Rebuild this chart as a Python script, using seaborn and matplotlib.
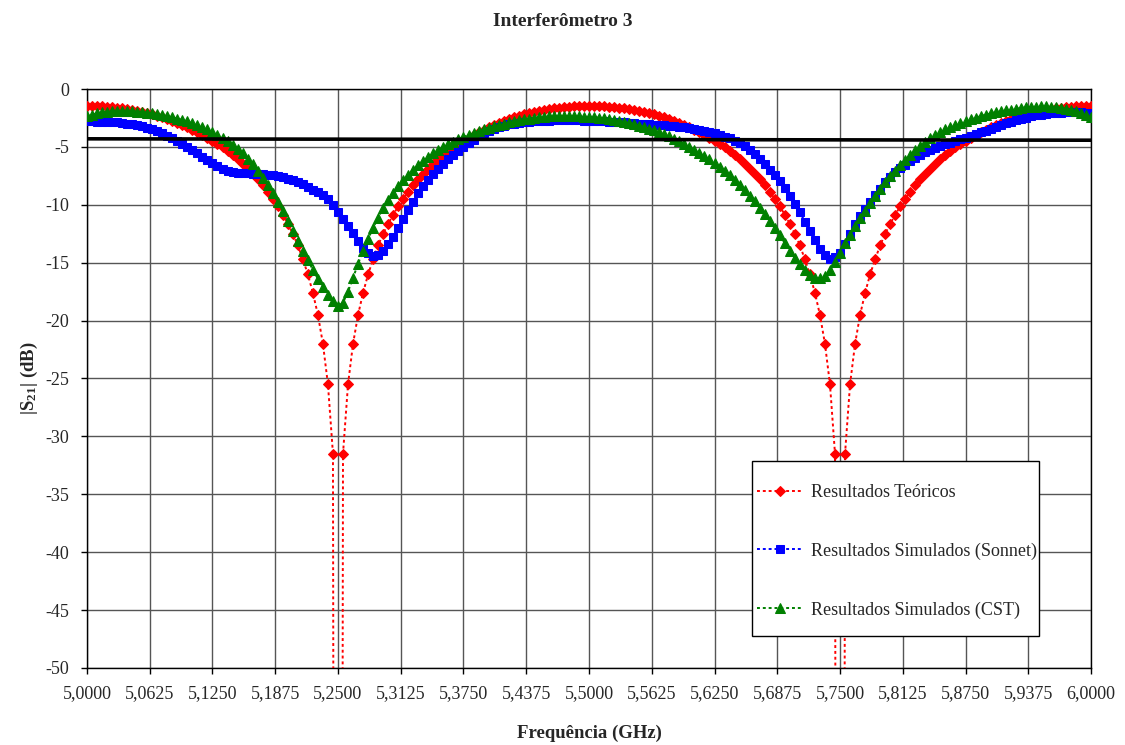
import numpy as np
import matplotlib
matplotlib.use('Agg')
import matplotlib.pyplot as plt
from matplotlib.patches import Rectangle
import seaborn as sns

# frequency sweep (GHz), 0.005 GHz step
freq = np.round(5.0 + 0.005 * np.arange(201), 4)

# |S21| (dB) - theoretical result
teorico = [
    -1.45, -1.45, -1.47, -1.49, -1.52, -1.56, -1.60, -1.66, -1.73, -1.80,
    -1.89, -1.98, -2.08, -2.19, -2.32, -2.45, -2.60, -2.75, -2.92, -3.10,
    -3.29, -3.50, -3.72, -3.95, -4.20, -4.45, -4.74, -5.04, -5.36, -5.70,
    -6.06, -6.45, -6.87, -7.32, -7.79, -8.31, -8.87, -9.47, -10.13, -10.85,
    -11.65, -12.5, -13.5, -14.7, -16.0, -17.6, -19.5, -22.0, -25.5, -31.5,
    -300.0,
    -31.5, -25.5, -22.0, -19.5, -17.6, -16.0, -14.7, -13.5, -12.5, -11.65,
    -10.85, -10.13, -9.47, -8.87, -8.31, -7.79, -7.32, -6.87, -6.45, -6.06,
    -5.70, -5.36, -5.04, -4.74, -4.45, -4.20, -3.95, -3.72, -3.50, -3.29,
    -3.10, -2.92, -2.75, -2.60, -2.45, -2.32, -2.19, -2.08, -1.98, -1.89,
    -1.80, -1.73, -1.66, -1.60, -1.56, -1.52, -1.49, -1.47, -1.45, -1.45,
    -1.45, -1.47, -1.49, -1.52, -1.56, -1.60, -1.66, -1.73, -1.80, -1.89,
    -1.98, -2.08, -2.19, -2.32, -2.45, -2.60, -2.75, -2.92, -3.10, -3.29,
    -3.50, -3.72, -3.95, -4.20, -4.45, -4.74, -5.04, -5.36, -5.70, -6.06,
    -6.45, -6.87, -7.32, -7.79, -8.31, -8.87, -9.47, -10.13, -10.85, -11.65,
    -12.5, -13.5, -14.7, -16.0, -17.6, -19.5, -22.0, -25.5, -31.5, -300.0,
    -31.5, -25.5, -22.0, -19.5, -17.6, -16.0, -14.7, -13.5, -12.5, -11.65,
    -10.85, -10.13, -9.47, -8.87, -8.31, -7.79, -7.32, -6.87, -6.45, -6.06,
    -5.70, -5.36, -5.04, -4.74, -4.45, -4.20, -3.95, -3.72, -3.50, -3.29,
    -3.10, -2.92, -2.75, -2.60, -2.45, -2.32, -2.19, -2.08, -1.98, -1.89,
    -1.80, -1.73, -1.66, -1.60, -1.56, -1.52, -1.49, -1.47, -1.45, -1.45,
]

# |S21| (dB) - Sonnet simulation
sonnet = [
    -2.80, -2.80, -2.81, -2.82, -2.84, -2.86, -2.89, -2.93, -2.98, -3.05,
    -3.13, -3.23, -3.35, -3.49, -3.65, -3.83, -4.02, -4.23, -4.46, -4.71,
    -4.97, -5.25, -5.54, -5.84, -6.14, -6.42, -6.67, -6.88, -7.04, -7.15,
    -7.22, -7.26, -7.28, -7.30, -7.32, -7.35, -7.39, -7.45, -7.53, -7.62,
    -7.74, -7.88, -8.04, -8.22, -8.45, -8.70, -8.93, -9.18, -9.50, -10.0,
    -10.6, -11.2, -11.8, -12.45, -13.1, -13.7, -14.15, -14.4, -14.3, -13.95,
    -13.4, -12.75, -12.0, -11.2, -10.45, -9.72, -9.02, -8.38, -7.85, -7.35,
    -6.88, -6.46, -6.06, -5.70, -5.33, -5.00, -4.65, -4.37, -4.09, -3.84,
    -3.62, -3.43, -3.28, -3.16, -3.06, -2.99, -2.93, -2.88, -2.84, -2.80,
    -2.77, -2.74, -2.72, -2.70, -2.69, -2.68, -2.68, -2.69, -2.70, -2.72,
    -2.74, -2.76, -2.78, -2.80, -2.82, -2.84, -2.87, -2.89, -2.92, -2.95,
    -2.98, -3.01, -3.04, -3.07, -3.10, -3.13, -3.17, -3.21, -3.25, -3.30,
    -3.36, -3.43, -3.51, -3.60, -3.70, -3.82, -3.95, -4.10, -4.27, -4.45,
    -4.70, -4.95, -5.25, -5.65, -6.05, -6.50, -6.95, -7.42, -7.95, -8.55,
    -9.20, -9.90, -10.65, -11.45, -12.25, -13.05, -13.80, -14.35, -14.65, -14.55,
    -14.15, -13.4, -12.5, -11.7, -11.0, -10.35, -9.75, -9.15, -8.6, -8.05,
    -7.6, -7.2, -6.85, -6.55, -6.25, -5.95, -5.7, -5.48, -5.27, -5.08,
    -4.92, -4.77, -4.62, -4.48, -4.34, -4.20, -4.05, -3.90, -3.75, -3.60,
    -3.44, -3.28, -3.12, -2.97, -2.83, -2.70, -2.58, -2.47, -2.37, -2.28,
    -2.21, -2.15, -2.10, -2.07, -2.04, -2.02, -2.01, -2.01, -2.02, -2.03,
    -2.05,
]

# |S21| (dB) - CST simulation
cst = [
    -2.35, -2.20, -2.10, -2.02, -1.96, -1.92, -1.90, -1.89, -1.90, -1.92,
    -1.95, -1.99, -2.04, -2.10, -2.17, -2.25, -2.34, -2.44, -2.55, -2.67,
    -2.80, -2.95, -3.11, -3.29, -3.49, -3.71, -3.95, -4.21, -4.50, -4.82,
    -5.17, -5.56, -6.00, -6.50, -7.05, -7.65, -8.30, -9.00, -9.75, -10.55,
    -11.4, -12.25, -13.1, -13.95, -14.8, -15.6, -16.4, -17.1, -17.75, -18.3,
    -18.75, -18.45, -17.5, -16.3, -15.1, -13.95, -12.95, -12.0, -11.1, -10.3,
    -9.55, -8.95, -8.4, -7.9, -7.4, -6.95, -6.55, -6.18, -5.85, -5.55,
    -5.27, -5.02, -4.78, -4.55, -4.34, -4.14, -3.96, -3.79, -3.63, -3.48,
    -3.34, -3.21, -3.09, -2.98, -2.88, -2.79, -2.70, -2.62, -2.55, -2.49,
    -2.44, -2.40, -2.37, -2.35, -2.34, -2.33, -2.33, -2.34, -2.36, -2.38,
    -2.41, -2.44, -2.48, -2.53, -2.59, -2.66, -2.74, -2.83, -2.93, -3.04,
    -3.16, -3.29, -3.43, -3.58, -3.74, -3.91, -4.09, -4.28, -4.48, -4.72,
    -4.97, -5.25, -5.5, -5.78, -6.07, -6.37, -6.7, -7.05, -7.45, -7.85,
    -8.3, -8.75, -9.2, -9.7, -10.25, -10.8, -11.4, -12.0, -12.65, -13.3,
    -13.95, -14.6, -15.15, -15.65, -16.05, -16.3, -16.35, -16.15, -15.65, -14.95,
    -14.15, -13.3, -12.6, -11.85, -11.15, -10.5, -9.85, -9.2, -8.6, -8.05,
    -7.55, -7.05, -6.6, -6.15, -5.72, -5.3, -4.9, -4.55, -4.25, -3.97,
    -3.72, -3.49, -3.28, -3.09, -2.92, -2.76, -2.61, -2.47, -2.34, -2.22,
    -2.11, -2.01, -1.92, -1.84, -1.77, -1.70, -1.64, -1.59, -1.55, -1.52,
    -1.50, -1.50, -1.52, -1.56, -1.62, -1.70, -1.80, -1.92, -2.06, -2.22,
    -2.40,
]

# black reference level line
ref_freq = [5.0, 6.0]
ref_level = [-4.30, -4.42]

x_ticks = [5.0, 5.0625, 5.125, 5.1875, 5.25, 5.3125, 5.375, 5.4375, 5.5,
           5.5625, 5.625, 5.6875, 5.75, 5.8125, 5.875, 5.9375, 6.0]
x_labels = ['5,0000', '5,0625', '5,1250', '5,1875', '5,2500', '5,3125',
            '5,3750', '5,4375', '5,5000', '5,5625', '5,6250', '5,6875',
            '5,7500', '5,8125', '5,8750', '5,9375', '6,0000']
y_ticks = [0, -5, -10, -15, -20, -25, -30, -35, -40, -45, -50]
y_labels = ['0', '-5', '-10', '-15', '-20', '-25', '-30', '-35', '-40', '-45', '-50']

sns.set_theme(style='white')
plt.rcParams['font.family'] = ['Liberation Serif', 'DejaVu Serif']
plt.rcParams['mathtext.default'] = 'regular'
plt.rcParams['axes.unicode_minus'] = False

fig, ax = plt.subplots(figsize=(11.25, 7.45), dpi=100)
fig.subplots_adjust(left=0.0773, right=0.9698, top=0.8805, bottom=0.1034)

dots = (0, (1.5, 1.5))
sns.lineplot(x=freq, y=teorico, ax=ax, color='#FF0000', linestyle=dots, linewidth=1.4,
             marker='D', markersize=5.5, markeredgecolor='#FF0000',
             label='Resultados Teóricos', sort=False, zorder=3)
sns.lineplot(x=freq, y=sonnet, ax=ax, color='#0000FF', linestyle=dots, linewidth=1.4,
             marker='s', markersize=6, markeredgecolor='#0000FF',
             label='Resultados Simulados (Sonnet)', sort=False, zorder=4)
sns.lineplot(x=freq, y=cst, ax=ax, color='#008000', linestyle=dots, linewidth=1.4,
             marker='^', markersize=7.5, markeredgecolor='#008000',
             label='Resultados Simulados (CST)', sort=False, zorder=5)
sns.lineplot(x=ref_freq, y=ref_level, ax=ax, color='black', linewidth=2.6,
             legend=False, zorder=6)

ax.set_xlim(5.0, 6.0)
ax.set_ylim(-50, 0)
ax.set_xticks(x_ticks)
ax.set_xticklabels(x_labels)
ax.set_yticks(y_ticks)
ax.set_yticklabels(y_labels)
ax.grid(True, color='#555555', linewidth=1.0)
ax.tick_params(axis='both', direction='out', length=4, width=1, color='black',
               labelsize=13, pad=8.5, bottom=True, left=True)
for s in ax.spines.values():
    s.set_color('black')
    s.set_linewidth(1.0)

ax.set_xlabel('Frequência (GHz)', fontsize=13.5, fontweight='bold', labelpad=16)
ax.set_ylabel('|S$_{21}$| (dB)', fontsize=13.5, fontweight='bold', labelpad=4)
fig.text(0.5, 1 - 22 / 745, 'Interferômetro 3', ha='center', va='center',
         fontsize=14, fontweight='bold')

# legend frame drawn separately so the inner spacing can follow the original box
ax.add_patch(Rectangle((0.662, 0.0553), 0.286, 0.3022, transform=ax.transAxes,
                       facecolor='white', edgecolor='black', linewidth=1.0, zorder=7))
leg = ax.legend(loc='upper left', bbox_to_anchor=(0.667, 0.318), borderaxespad=0,
                fontsize=13, frameon=False, handlelength=2.55, handletextpad=0.45,
                labelspacing=2.3, borderpad=0, numpoints=1)
leg.set_zorder(8)

fig.savefig('out.png', dpi=100)
